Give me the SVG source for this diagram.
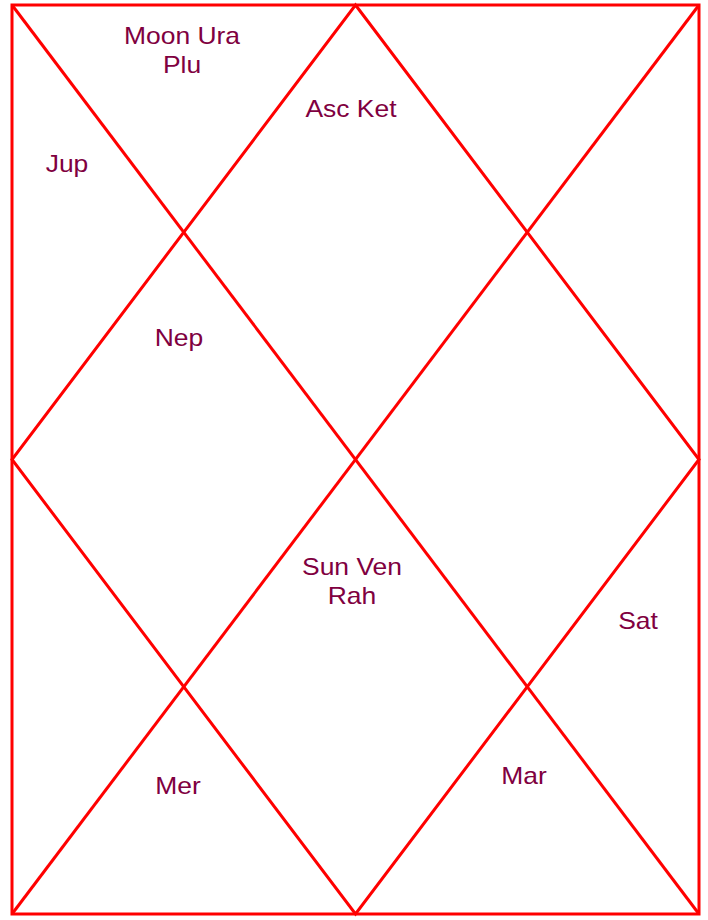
<svg xmlns="http://www.w3.org/2000/svg" width="708" height="920" viewBox="0 0 708 920">
<style>
.ln{fill:none;stroke:#ff0000;stroke-width:3;stroke-linejoin:miter}
.t{font-family:"Liberation Sans",Arial,sans-serif;font-size:23px;fill:#800040;text-anchor:middle}
</style>
<rect width="708" height="920" fill="#ffffff"/>
<g id="connectors">
<rect class="ln" x="12" y="5" width="687" height="909"/>
<line class="ln" x1="12" y1="5" x2="699" y2="914"/>
<line class="ln" x1="699" y1="5" x2="12" y2="914"/>
<polygon class="ln" points="355.5,5 699,459.5 355.5,914 12,459.5"/>
</g>
<g id="house12"><text class="t" transform="translate(182,44) scale(1.15,1)">Moon Ura</text><text class="t" transform="translate(182,73) scale(1.15,1)">Plu</text></g>
<g id="house1"><text class="t" transform="translate(351,117) scale(1.15,1)">Asc Ket</text></g>
<g id="house11"><text class="t" transform="translate(67,172) scale(1.15,1)">Jup</text></g>
<g id="house10"><text class="t" transform="translate(179,346) scale(1.15,1)">Nep</text></g>
<g id="house7"><text class="t" transform="translate(352,575) scale(1.15,1)">Sun Ven</text><text class="t" transform="translate(352,604) scale(1.15,1)">Rah</text></g>
<g id="house5"><text class="t" transform="translate(638,629) scale(1.15,1)">Sat</text></g>
<g id="house6"><text class="t" transform="translate(524,784) scale(1.15,1)">Mar</text></g>
<g id="house8"><text class="t" transform="translate(178,794) scale(1.15,1)">Mer</text></g>
</svg>
